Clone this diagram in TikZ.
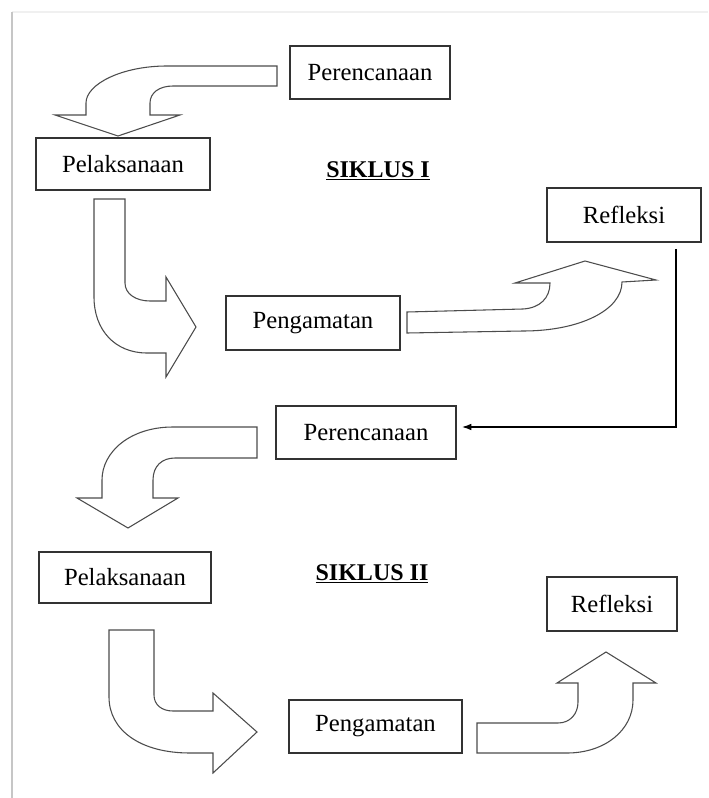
\documentclass[tikz,border=0pt]{standalone}
\usepackage{fontspec}
\setmainfont{Liberation Serif}
\usetikzlibrary{arrows.meta}
\begin{document}
\begin{tikzpicture}[x=0.75pt,y=-0.75pt,
  box/.style={draw=black!80,line width=1.1pt,fill=white,inner sep=0pt,
    font=\fontsize{18.5}{21}\selectfont},
  bigarrow/.style={draw=black!70,line width=0.8pt,fill=white,line join=miter},
  conn/.style={draw=black,line width=0.9pt,-{Latex[length=7pt,width=5pt]}},
  title/.style={font=\fontsize{18}{21}\selectfont\bfseries}]
\useasboundingbox (0,0) rectangle (708,798);
\fill[white] (0,0) rectangle (708,798);
% page shadow
\draw[gray!12,line width=1.2pt] (12,12) -- (708,12);
\draw[gray!45,line width=1.8pt] (12,12) -- (12,798);

% boxes
\node[box,minimum width=120pt,minimum height=39.75pt] (P1) at (370,72.5) {Perencanaan};
\node[box,minimum width=130.5pt,minimum height=39pt] (L1) at (123,164) {Pelaksanaan};
\node[box,minimum width=115.5pt,minimum height=40.5pt] (R1) at (624,215) {Refleksi};
\node[box,minimum width=130.5pt,minimum height=40.5pt] (G1) at (313,323) {Pengamatan};
\node[box,minimum width=135pt,minimum height=39.75pt] (P2) at (366,432.5) {Perencanaan};
\node[box,minimum width=129pt,minimum height=38.25pt] (L2) at (125,577.5) {Pelaksanaan};
\node[box,minimum width=97.5pt,minimum height=40.5pt] (R2) at (612,604) {Refleksi};
\node[box,minimum width=129.75pt,minimum height=39.75pt] (G2) at (375.5,726.5) {Pengamatan};

\node[title] (S1) at (378,171) {\underline{SIKLUS I}};
\node[title] (S2) at (372,574) {\underline{SIKLUS II}};

% block arrows, cycle I
\path[bigarrow] (277,66) -- (167,66) .. controls (122,66) and (86,84) .. (86,103)
  -- (86,115) -- (55,115) -- (118,136) -- (180,115) -- (150,115) -- (150,103)
  .. controls (150,93) and (159,86) .. (173,86) -- (277,86) -- cycle;
\path[bigarrow] (94,199) -- (125,199) -- (125,283)
  .. controls (125,294) and (136,301) .. (150,301) -- (166,301) -- (166,277)
  -- (196,327) -- (166,377) -- (166,353) -- (147,353)
  .. controls (115,353) and (94,330) .. (94,297) -- cycle;
\path[bigarrow] (407,312) -- (523,309) .. controls (540,308) and (550,298) .. (550,283)
  -- (515,283) -- (585,261) -- (656,280) -- (622,282)
  .. controls (622,310) and (580,331) .. (523,331) -- (407,333) -- cycle;

% block arrows, cycle II
\path[bigarrow] (257,427) -- (173,427) .. controls (130,427) and (102,452) .. (102,480)
  -- (102,498) -- (77,498) -- (128,528) -- (178,498) -- (153,498) -- (153,480)
  .. controls (153,466) and (162,458) .. (175,458) -- (257,458) -- cycle;
\path[bigarrow] (109,630) -- (154,630) -- (154,695)
  .. controls (154,705) and (162,711) .. (173,711) -- (213,711) -- (213,693)
  -- (257,732) -- (213,773) -- (213,753) -- (190,753)
  .. controls (140,753) and (109,730) .. (109,697) -- cycle;
\path[bigarrow] (477,723) -- (558,723) .. controls (570,723) and (578,714) .. (578,702)
  -- (578,683) -- (557,683) -- (606,652) -- (656,683) -- (633,683) -- (633,700)
  .. controls (633,730) and (605,753) .. (567,753) -- (477,753) -- cycle;

% connector Refleksi -> Perencanaan (cycle II)
\coordinate (c1) at (676,249);
\coordinate (c2) at (462,427);
\draw[conn] (c1) |- (c2);
\end{tikzpicture}
\end{document}
